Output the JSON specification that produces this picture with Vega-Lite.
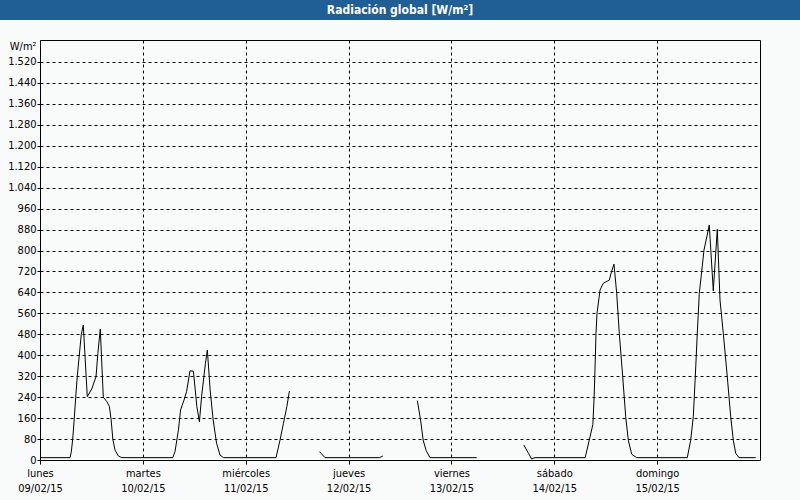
{
  "$schema": "https://vega.github.io/schema/vega-lite/v6.json",
  "background": "#f9fbfb",
  "padding": {"left": 0, "top": 0, "right": 0, "bottom": 6},
  "spacing": 20,
  "bounds": "flush",
  "center": true,
  "config": {"font": "DejaVu Sans Condensed"},
  "vconcat": [
    {
      "width": 800,
      "height": 20,
      "view": {"fill": "#1f5f96", "stroke": null},
      "data": {"values": [{"titulo": "Radiación global [W/m²]"}]},
      "mark": {"type": "text", "color": "white", "fontWeight": "bold", "fontSize": 12, "font": "DejaVu Sans Condensed", "baseline": "middle"},
      "encoding": {"text": {"field": "titulo", "type": "nominal"}}
    },
    {
      "width": 720,
      "height": 420,
      "view": {"stroke": "black", "strokeWidth": 1, "fill": null},
      "data": {"values": [
        {"t": "2015-02-09T00:00", "v": 9, "s": 1},
        {"t": "2015-02-09T07:00", "v": 9, "s": 1},
        {"t": "2015-02-09T07:18", "v": 30, "s": 1},
        {"t": "2015-02-09T07:38", "v": 80, "s": 1},
        {"t": "2015-02-09T08:00", "v": 160, "s": 1},
        {"t": "2015-02-09T08:20", "v": 240, "s": 1},
        {"t": "2015-02-09T08:42", "v": 320, "s": 1},
        {"t": "2015-02-09T09:10", "v": 400, "s": 1},
        {"t": "2015-02-09T09:38", "v": 480, "s": 1},
        {"t": "2015-02-09T10:06", "v": 515, "s": 1},
        {"t": "2015-02-09T11:02", "v": 242, "s": 1},
        {"t": "2015-02-09T12:04", "v": 271, "s": 1},
        {"t": "2015-02-09T13:04", "v": 318, "s": 1},
        {"t": "2015-02-09T13:30", "v": 407, "s": 1},
        {"t": "2015-02-09T14:04", "v": 500, "s": 1},
        {"t": "2015-02-09T14:46", "v": 240, "s": 1},
        {"t": "2015-02-09T15:36", "v": 223, "s": 1},
        {"t": "2015-02-09T16:12", "v": 204, "s": 1},
        {"t": "2015-02-09T16:36", "v": 153, "s": 1},
        {"t": "2015-02-09T17:00", "v": 79, "s": 1},
        {"t": "2015-02-09T17:30", "v": 38, "s": 1},
        {"t": "2015-02-09T18:18", "v": 15, "s": 1},
        {"t": "2015-02-09T19:06", "v": 9, "s": 1},
        {"t": "2015-02-10T06:58", "v": 9, "s": 1},
        {"t": "2015-02-10T07:30", "v": 32, "s": 1},
        {"t": "2015-02-10T08:18", "v": 115, "s": 1},
        {"t": "2015-02-10T08:48", "v": 191, "s": 1},
        {"t": "2015-02-10T09:36", "v": 229, "s": 1},
        {"t": "2015-02-10T10:12", "v": 261, "s": 1},
        {"t": "2015-02-10T11:00", "v": 341, "s": 1},
        {"t": "2015-02-10T11:48", "v": 339, "s": 1},
        {"t": "2015-02-10T12:36", "v": 204, "s": 1},
        {"t": "2015-02-10T13:12", "v": 146, "s": 1},
        {"t": "2015-02-10T13:42", "v": 242, "s": 1},
        {"t": "2015-02-10T14:36", "v": 369, "s": 1},
        {"t": "2015-02-10T15:03", "v": 420, "s": 1},
        {"t": "2015-02-10T15:42", "v": 267, "s": 1},
        {"t": "2015-02-10T16:24", "v": 153, "s": 1},
        {"t": "2015-02-10T17:12", "v": 64, "s": 1},
        {"t": "2015-02-10T18:00", "v": 19, "s": 1},
        {"t": "2015-02-10T18:48", "v": 9, "s": 1},
        {"t": "2015-02-11T07:04", "v": 9, "s": 1},
        {"t": "2015-02-11T08:00", "v": 76, "s": 1},
        {"t": "2015-02-11T08:48", "v": 140, "s": 1},
        {"t": "2015-02-11T09:36", "v": 204, "s": 1},
        {"t": "2015-02-11T10:12", "v": 263, "s": 1},
        {"t": "2015-02-11T17:12", "v": 32, "s": 2},
        {"t": "2015-02-11T18:30", "v": 9, "s": 2},
        {"t": "2015-02-12T07:12", "v": 9, "s": 2},
        {"t": "2015-02-12T08:00", "v": 15, "s": 2},
        {"t": "2015-02-12T16:03", "v": 227, "s": 3},
        {"t": "2015-02-12T16:48", "v": 153, "s": 3},
        {"t": "2015-02-12T17:24", "v": 76, "s": 3},
        {"t": "2015-02-12T18:06", "v": 36, "s": 3},
        {"t": "2015-02-12T19:00", "v": 9, "s": 3},
        {"t": "2015-02-13T05:54", "v": 9, "s": 3},
        {"t": "2015-02-13T16:54", "v": 57, "s": 4},
        {"t": "2015-02-13T18:00", "v": 25, "s": 4},
        {"t": "2015-02-13T18:42", "v": 4, "s": 4},
        {"t": "2015-02-13T19:30", "v": 9, "s": 4},
        {"t": "2015-02-14T07:12", "v": 9, "s": 4},
        {"t": "2015-02-14T08:10", "v": 76, "s": 4},
        {"t": "2015-02-14T09:00", "v": 135, "s": 4},
        {"t": "2015-02-14T09:18", "v": 242, "s": 4},
        {"t": "2015-02-14T09:27", "v": 320, "s": 4},
        {"t": "2015-02-14T09:44", "v": 484, "s": 4},
        {"t": "2015-02-14T09:58", "v": 560, "s": 4},
        {"t": "2015-02-14T10:40", "v": 649, "s": 4},
        {"t": "2015-02-14T11:26", "v": 675, "s": 4},
        {"t": "2015-02-14T12:50", "v": 687, "s": 4},
        {"t": "2015-02-14T13:21", "v": 719, "s": 4},
        {"t": "2015-02-14T13:56", "v": 748, "s": 4},
        {"t": "2015-02-14T14:34", "v": 636, "s": 4},
        {"t": "2015-02-14T15:10", "v": 484, "s": 4},
        {"t": "2015-02-14T15:58", "v": 318, "s": 4},
        {"t": "2015-02-14T16:40", "v": 165, "s": 4},
        {"t": "2015-02-14T17:16", "v": 76, "s": 4},
        {"t": "2015-02-14T18:04", "v": 22, "s": 4},
        {"t": "2015-02-14T19:14", "v": 9, "s": 4},
        {"t": "2015-02-15T07:02", "v": 9, "s": 4},
        {"t": "2015-02-15T07:50", "v": 76, "s": 4},
        {"t": "2015-02-15T08:26", "v": 165, "s": 4},
        {"t": "2015-02-15T08:54", "v": 318, "s": 4},
        {"t": "2015-02-15T09:22", "v": 484, "s": 4},
        {"t": "2015-02-15T09:50", "v": 636, "s": 4},
        {"t": "2015-02-15T10:56", "v": 802, "s": 4},
        {"t": "2015-02-15T12:10", "v": 897, "s": 4},
        {"t": "2015-02-15T13:06", "v": 646, "s": 4},
        {"t": "2015-02-15T14:02", "v": 881, "s": 4},
        {"t": "2015-02-15T14:40", "v": 611, "s": 4},
        {"t": "2015-02-15T15:26", "v": 484, "s": 4},
        {"t": "2015-02-15T16:22", "v": 318, "s": 4},
        {"t": "2015-02-15T17:10", "v": 165, "s": 4},
        {"t": "2015-02-15T17:46", "v": 76, "s": 4},
        {"t": "2015-02-15T18:20", "v": 26, "s": 4},
        {"t": "2015-02-15T19:06", "v": 9, "s": 4},
        {"t": "2015-02-15T23:00", "v": 9, "s": 4}
      ]},
      "mark": {"type": "line", "color": "black", "strokeWidth": 1},
      "encoding": {
        "x": {
          "field": "t",
          "type": "temporal",
          "scale": {"domain": [{"year": 2015, "month": 2, "date": 9}, {"year": 2015, "month": 2, "date": 16}]},
          "axis": {
            "values": [
              {"year": 2015, "month": 2, "date": 9},
              {"year": 2015, "month": 2, "date": 10},
              {"year": 2015, "month": 2, "date": 11},
              {"year": 2015, "month": 2, "date": 12},
              {"year": 2015, "month": 2, "date": 13},
              {"year": 2015, "month": 2, "date": 14},
              {"year": 2015, "month": 2, "date": 15}
            ],
            "labelExpr": "[['domingo','lunes','martes','miércoles','jueves','viernes','sábado'][day(datum.value)], timeFormat(datum.value, '%d/%m/%y')]",
            "title": null,
            "grid": true,
            "gridColor": "black",
            "gridDash": [3, 3],
            "gridOpacity": 1,
            "domain": false,
            "tickColor": "black",
            "tickSize": 4,
            "labelColor": "black",
            "labelFont": "DejaVu Sans Condensed",
            "labelFontSize": 11,
            "labelLineHeight": 15,
            "labelPadding": 3,
            "labelFlush": false,
            "labelOverlap": false
          }
        },
        "y": {
          "field": "v",
          "type": "quantitative",
          "scale": {"domain": [0, 1604], "nice": false, "zero": true},
          "axis": {
            "values": [0, 80, 160, 240, 320, 400, 480, 560, 640, 720, 800, 880, 960, 1040, 1120, 1200, 1280, 1360, 1440, 1520],
            "labelExpr": "replace(format(datum.value, ','), ',', '.')",
            "title": "W/m²",
            "titleAngle": 0,
            "titleAlign": "right",
            "titleBaseline": "middle",
            "titleX": -4,
            "titleY": 6,
            "titleFontWeight": "normal",
            "titleFontSize": 11,
            "titleFont": "DejaVu Sans Condensed",
            "titleColor": "black",
            "grid": true,
            "gridColor": "black",
            "gridDash": [3, 3],
            "gridOpacity": 1,
            "domain": false,
            "tickColor": "black",
            "tickSize": 3,
            "labelColor": "black",
            "labelFont": "DejaVu Sans Condensed",
            "labelFontSize": 11,
            "labelPadding": 1,
            "labelOverlap": false
          }
        },
        "detail": {"field": "s", "type": "nominal"}
      }
    }
  ]
}
